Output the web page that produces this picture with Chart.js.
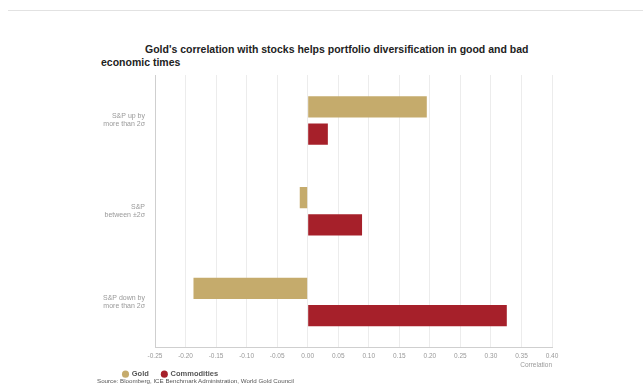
<!DOCTYPE html>
<html lang="en">
<head>
<meta charset="UTF-8">
<title>Gold correlation with stocks</title>
<style>
    body { margin: 0; background: #fff; font-family: "Liberation Sans", Arial, sans-serif; }
    .wrap { position: relative; width: 643px; height: 389px; overflow: hidden; }
    .topline { position: absolute; left: 8px; right: 0; top: 10px; border-top: 1px solid #e2e2e2; }
    .title { position: absolute; top: 43px; left: 101px; width: 460px; font-size: 10.5px; font-weight: bold; color: #222; line-height: 13px; }
    .title .l1 { padding-left: 44px; }
    .source { position: absolute; left: 97px; top: 377px; font-size: 6.2px; color: #555; }
    canvas { position: absolute; left: 0; top: 0; }
</style>
</head>
<body>
<div class="wrap">
    <div class="topline"></div>
    <div class="title"><div class="l1">Gold's correlation with stocks helps portfolio diversification in good and bad</div><div>economic times</div></div>
    <canvas id="chart" width="643" height="389"></canvas>
    <div class="source">Source: Bloomberg, ICE Benchmark Administration, World Gold Council</div>
</div>

<script src="https://cdn.jsdelivr.net/npm/chart.js"></script>
<script>
// data
const categories = [
    ['S&P up by', 'more than 2σ'],
    ['S&P', 'between ±2σ'],
    ['S&P down by', 'more than 2σ']
];
const goldValues = [0.195, -0.013, -0.187];
const commodityValues = [0.033, 0.089, 0.326];
const xTickValues = [-0.25, -0.20, -0.15, -0.10, -0.05, 0, 0.05, 0.10, 0.15, 0.20, 0.25, 0.30, 0.35, 0.40];
const xTickLabels = ['-0.25', '-0.20', '-0.15', '-0.10', '-0.05', '0.00', '0.05', '0.10', '0.15', '0.20', '0.25', '0.30', '0.35', '0.40'];

const goldColor = '#c5ab6c';
const commodityColor = '#a6202a';

// legend sits right under the axis title, a bit in from the left
const legendPlacement = {
    id: 'legendPlacement',
    beforeInit(chart) {
        const legend = chart.legend;
        const fit = legend.fit.bind(legend);
        legend.fit = function () {
            fit();
            this.height = 10;
        };
    },
    afterLayout(chart) {
        const legend = chart.legend;
        legend.top = chart.chartArea.bottom + 10;
        legend.bottom = legend.top + 30;
        legend.left += 20;
        legend.right += 20;
    }
};

new Chart(document.getElementById('chart'), {
    type: 'bar',
    data: {
        labels: categories,
        datasets: [
            { label: 'Gold', data: goldValues, backgroundColor: goldColor },
            { label: 'Commodities', data: commodityValues, backgroundColor: commodityColor }
        ]
    },
    options: {
        indexAxis: 'y',
        responsive: false,
        animation: false,
        categoryPercentage: 0.6,
        barPercentage: 0.78,
        layout: { padding: { left: 90, right: 91, top: 75, bottom: 10 } },
        scales: {
            x: {
                min: -0.25,
                max: 0.40,
                afterBuildTicks: (scale) => {
                    scale.ticks = xTickValues.map(v => ({ value: v }));
                },
                grid: { color: '#ececec', drawTicks: false },
                border: { color: '#cfcfcf' },
                ticks: {
                    padding: 5,
                    color: '#999',
                    font: { family: 'Liberation Sans', size: 6.5 },
                    maxRotation: 0,
                    autoSkip: false,
                    callback: (value, index) => xTickLabels[index]
                },
                title: {
                    display: true,
                    text: 'Correlation',
                    align: 'end',
                    color: '#999',
                    font: { family: 'Liberation Sans', size: 6.5 },
                    padding: { top: -4, bottom: 0 }
                }
            },
            y: {
                afterFit: (scale) => { scale.width = 65; },
                grid: { display: false, drawTicks: false },
                border: { color: '#cfcfcf' },
                ticks: {
                    padding: 10,
                    color: '#999',
                    font: { family: 'Liberation Sans', size: 7, lineHeight: 1.15 }
                }
            }
        },
        plugins: {
            legend: {
                position: 'bottom',
                align: 'start',
                labels: {
                    usePointStyle: true,
                    pointStyle: 'circle',
                    boxWidth: 5,
                    boxHeight: 5,
                    padding: 13,
                    color: '#555',
                    font: { family: 'Liberation Sans', size: 7.5, weight: 'bold' }
                }
            },
            tooltip: { enabled: false }
        }
    },
    plugins: [legendPlacement]
});
</script>
</body>
</html>
